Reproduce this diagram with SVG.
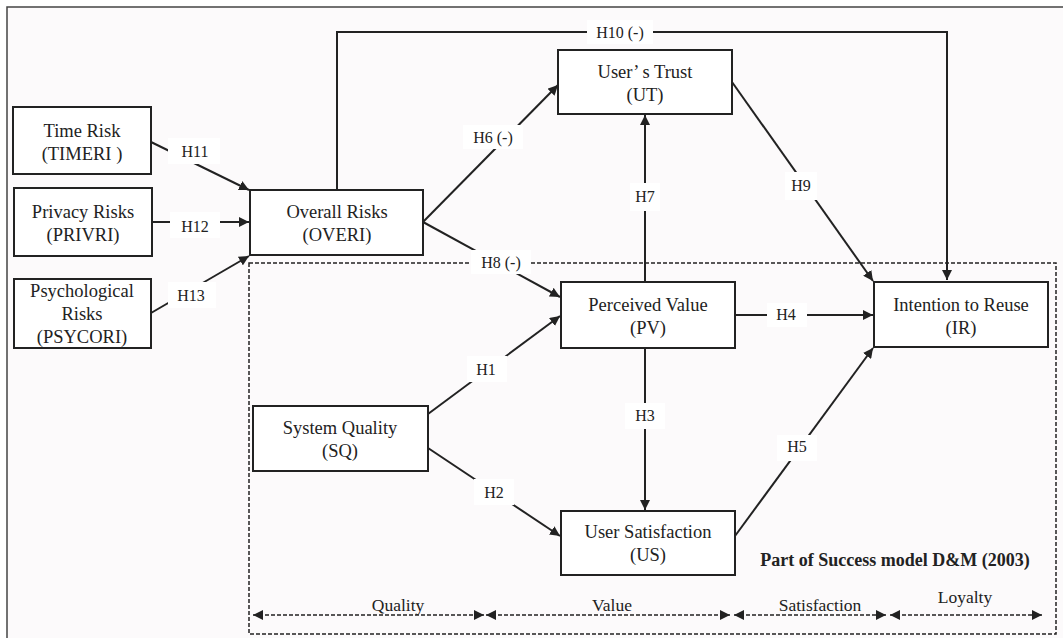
<svg xmlns="http://www.w3.org/2000/svg" width="1063" height="638" viewBox="0 0 1063 638">
<style>
.bg{fill:#fcfafb}
.box{fill:#ffffff;stroke:#222;stroke-width:2}
.nt{font-family:"Liberation Serif","Times New Roman",serif;font-size:18.5px;fill:#222;text-anchor:middle}
.lt{font-family:"Liberation Serif","Times New Roman",serif;font-size:16px;fill:#222;text-anchor:middle}
.bt{font-family:"Liberation Serif","Times New Roman",serif;font-size:17.5px;fill:#222;text-anchor:middle}
.lb{fill:#ffffff}
.ln{fill:none;stroke:#222;stroke-width:2}
.dl{fill:none;stroke:#222;stroke-width:1.5;stroke-dasharray:4,2}
</style>
<defs>
<marker id="ah" viewBox="0 0 10 10" refX="10" refY="5" markerWidth="10" markerHeight="10" markerUnits="userSpaceOnUse" orient="auto-start-reverse">
<path d="M0,0 L10,5 L0,10 z" fill="#222"/>
</marker>
</defs>
<rect x="0" y="0" width="1063" height="638" fill="#ffffff"/>
<rect class="bg" x="7" y="7" width="1062" height="640" stroke="#444" stroke-width="1.5"/>

<g id="frame">
<rect class="dl" x="249" y="263" width="807" height="371"/>
</g>

<g id="connectors">
<polyline class="ln" points="337,190 337,32 947,32 947,280" marker-end="url(#ah)"/>
<line class="ln" x1="423" y1="222" x2="558" y2="85" marker-end="url(#ah)"/>
<line class="ln" x1="423" y1="222" x2="560" y2="297" marker-end="url(#ah)"/>
<line class="ln" x1="645" y1="282" x2="645" y2="115" marker-end="url(#ah)"/>
<line class="ln" x1="732" y1="82" x2="873" y2="281" marker-end="url(#ah)"/>
<line class="ln" x1="735" y1="315" x2="873" y2="315" marker-end="url(#ah)"/>
<line class="ln" x1="428" y1="414" x2="560" y2="316" marker-end="url(#ah)"/>
<line class="ln" x1="428" y1="448" x2="560" y2="536" marker-end="url(#ah)"/>
<line class="ln" x1="645" y1="348" x2="645" y2="510" marker-end="url(#ah)"/>
<line class="ln" x1="735" y1="536" x2="873" y2="348" marker-end="url(#ah)"/>
<line class="ln" x1="151" y1="142" x2="249" y2="190" marker-end="url(#ah)"/>
<line class="ln" x1="152" y1="222" x2="249" y2="222" marker-end="url(#ah)"/>
<line class="ln" x1="151" y1="313" x2="249" y2="256" marker-end="url(#ah)"/>
<line class="dl" x1="253" y1="615" x2="484" y2="615" marker-start="url(#ah)" marker-end="url(#ah)"/>
<line class="dl" x1="486" y1="615" x2="730" y2="615" marker-start="url(#ah)" marker-end="url(#ah)"/>
<line class="dl" x1="734" y1="615" x2="886" y2="615" marker-start="url(#ah)" marker-end="url(#ah)"/>
<line class="dl" x1="890" y1="615" x2="1042" y2="615" marker-start="url(#ah)" marker-end="url(#ah)"/>
</g>

<g id="labels">
<rect class="lb" x="587" y="20" width="66" height="24"/><text class="lt" x="620" y="38">H10 (-)</text>
<rect class="lb" x="463" y="125" width="60" height="24"/><text class="lt" x="493" y="143">H6 (-)</text>
<rect class="lb" x="471" y="250" width="60" height="24"/><text class="lt" x="501" y="268">H8 (-)</text>
<rect class="lb" x="630" y="183" width="30" height="28"/><text class="lt" x="645" y="202">H7</text>
<rect class="lb" x="785" y="172" width="32" height="28"/><text class="lt" x="801" y="191">H9</text>
<rect class="lb" x="767" y="303" width="40" height="24"/><text class="lt" x="786" y="320">H4</text>
<rect class="lb" x="467" y="356" width="40" height="26"/><text class="lt" x="486" y="375">H1</text>
<rect class="lb" x="474" y="479" width="40" height="26"/><text class="lt" x="494" y="498">H2</text>
<rect class="lb" x="625" y="403" width="40" height="26"/><text class="lt" x="645" y="421">H3</text>
<rect class="lb" x="777" y="435" width="40" height="26"/><text class="lt" x="797" y="452">H5</text>
<rect class="lb" x="168" y="138" width="52" height="26"/><text class="lt" x="195" y="157">H11</text>
<rect class="lb" x="170" y="212" width="50" height="26"/><text class="lt" x="195" y="232">H12</text>
<rect class="lb" x="168" y="282" width="48" height="26"/><text class="lt" x="191" y="301">H13</text>
<text class="bt" x="398" y="611">Quality</text>
<text class="bt" x="612" y="611">Value</text>
<text class="bt" x="820" y="611">Satisfaction</text>
<text class="bt" x="965" y="603">Loyalty</text>
<text x="895" y="566" style="font-family:'Liberation Serif','Times New Roman',serif;font-size:18px;font-weight:bold;fill:#222;text-anchor:middle">Part of Success model D&amp;M (2003)</text>
</g>

<g id="timeri">
<rect class="box" x="13" y="107" width="138" height="67"/>
<text class="nt" x="82" y="137">Time Risk</text>
<text class="nt" x="82" y="160">(TIMERI )</text>
</g>
<g id="privri">
<rect class="box" x="14" y="188" width="138" height="68"/>
<text class="nt" x="83" y="218">Privacy Risks</text>
<text class="nt" x="83" y="241">(PRIVRI)</text>
</g>
<g id="psycori">
<rect class="box" x="14" y="279" width="137" height="69"/>
<text class="nt" x="82" y="297">Psychological</text>
<text class="nt" x="82" y="320">Risks</text>
<text class="nt" x="82" y="343">(PSYCORI)</text>
</g>
<g id="overi">
<rect class="box" x="250" y="190" width="173" height="65"/>
<text class="nt" x="337" y="218">Overall Risks</text>
<text class="nt" x="337" y="241">(OVERI)</text>
</g>
<g id="ut">
<rect class="box" x="558" y="50" width="174" height="64"/>
<text class="nt" x="645" y="78">User’ s Trust</text>
<text class="nt" x="645" y="101">(UT)</text>
</g>
<g id="pv">
<rect class="box" x="561" y="282" width="174" height="66"/>
<text class="nt" x="648" y="311">Perceived Value</text>
<text class="nt" x="648" y="334">(PV)</text>
</g>
<g id="ir">
<rect class="box" x="874" y="282" width="174" height="65"/>
<text class="nt" x="961" y="311">Intention to Reuse</text>
<text class="nt" x="961" y="334">(IR)</text>
</g>
<g id="sq">
<rect class="box" x="253" y="406" width="175" height="65"/>
<text class="nt" x="340" y="434">System Quality</text>
<text class="nt" x="340" y="457">(SQ)</text>
</g>
<g id="us">
<rect class="box" x="561" y="511" width="174" height="64"/>
<text class="nt" x="648" y="538">User Satisfaction</text>
<text class="nt" x="648" y="561">(US)</text>
</g>
</svg>
